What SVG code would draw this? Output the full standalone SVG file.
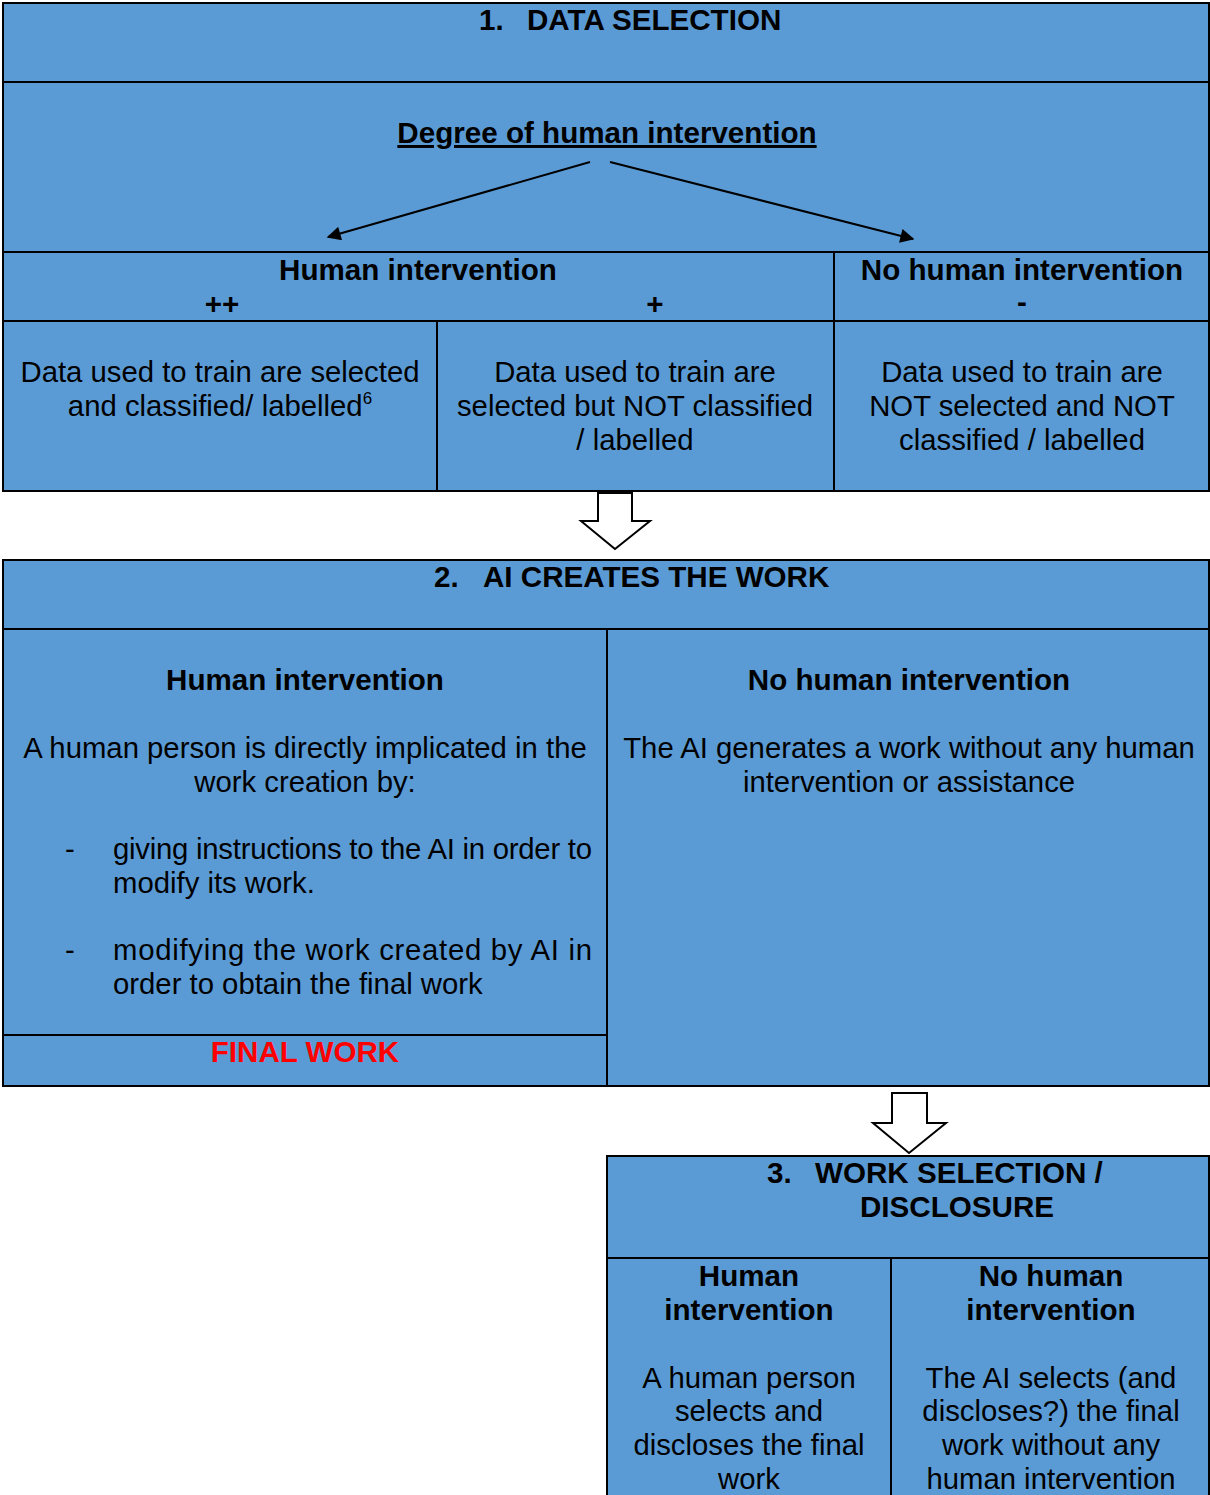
<svg xmlns="http://www.w3.org/2000/svg" width="1210" height="1495" viewBox="0 0 1210 1495">
<defs>
<style>
.cell{fill:#5B9BD5;stroke:#000;stroke-width:2}
.ln{stroke:#000;stroke-width:2;fill:none}
.t{font-family:"Liberation Sans",Arial,sans-serif;font-size:29.3px;fill:#000}
.b{font-weight:bold;font-size:29.6px}
.c{text-anchor:middle}
.hollow{fill:#fff;stroke:#000;stroke-width:2;stroke-linejoin:miter}
</style>
<marker id="ah2" viewBox="0 0 10 10" refX="9" refY="5" markerWidth="16" markerHeight="14" markerUnits="userSpaceOnUse" orient="auto">
<path d="M0,0 L10,5 L0,10 z" fill="#000"/>
</marker>
</defs>

<g id="stage1">
<rect class="cell" x="3" y="3" width="1206" height="488"/>
<line class="ln" x1="3" y1="82" x2="1209" y2="82"/>
<line class="ln" x1="3" y1="252" x2="1209" y2="252"/>
<line class="ln" x1="3" y1="321" x2="1209" y2="321"/>
<line class="ln" x1="834" y1="252" x2="834" y2="491"/>
<line class="ln" x1="437" y1="321" x2="437" y2="491"/>
<text class="t b" x="479" y="30">1.</text>
<text class="t b" x="527" y="30">DATA SELECTION</text>
<text class="t b c" x="607" y="143" text-decoration="underline">Degree of human intervention</text>
<text class="t b c" x="418" y="280">Human intervention</text>
<text class="t b c" x="1022" y="280">No human intervention</text>
<text class="t b c" x="222" y="314">++</text>
<text class="t b c" x="655" y="314">+</text>
<text class="t b c" x="1022" y="312">-</text>
</g>

<g id="stage1-col1">
<text class="t c" x="220" y="382">Data used to train are selected</text>
<text class="t c" x="220" y="416">and classified/ labelled<tspan font-size="17" dy="-12">6</tspan></text>
</g>
<g id="stage1-col2">
<text class="t c" x="635" y="382">Data used to train are</text>
<text class="t c" x="635" y="416">selected but NOT classified</text>
<text class="t c" x="635" y="450">/ labelled</text>
</g>
<g id="stage1-col3">
<text class="t c" x="1022" y="382">Data used to train are</text>
<text class="t c" x="1022" y="416">NOT selected and NOT</text>
<text class="t c" x="1022" y="450">classified / labelled</text>
</g>

<g id="stage2">
<rect class="cell" x="3" y="560" width="1206" height="526"/>
<line class="ln" x1="3" y1="629" x2="1209" y2="629"/>
<line class="ln" x1="607" y1="629" x2="607" y2="1086"/>
<line class="ln" x1="3" y1="1035" x2="607" y2="1035"/>
<text class="t b" x="434" y="587">2.</text>
<text class="t b" x="483" y="587">AI CREATES THE WORK</text>
</g>
<g id="stage2-human">
<text class="t b c" x="305" y="690">Human intervention</text>
<text class="t c" x="305" y="758">A human person is directly implicated in the</text>
<text class="t c" x="305" y="792">work creation by:</text>
<text class="t" x="65" y="859">-</text>
<text class="t" x="113" y="859" textLength="479" lengthAdjust="spacing">giving instructions to the AI in order to</text>
<text class="t" x="113" y="893">modify its work.</text>
<text class="t" x="65" y="960">-</text>
<text class="t" x="113" y="960" textLength="479" lengthAdjust="spacing">modifying the work created by AI in</text>
<text class="t" x="113" y="994">order to obtain the final work</text>
<text class="t b c" x="305" y="1062" style="fill:#FF0000">FINAL WORK</text>
</g>
<g id="stage2-nohuman">
<text class="t b c" x="909" y="690">No human intervention</text>
<text class="t c" x="909" y="758">The AI generates a work without any human</text>
<text class="t c" x="909" y="792">intervention or assistance</text>
</g>

<g id="stage3">
<path class="cell" d="M607,1497 L607,1156 L1209,1156 L1209,1497"/>
<line class="ln" x1="607" y1="1258" x2="1209" y2="1258"/>
<line class="ln" x1="891" y1="1258" x2="891" y2="1497"/>
<text class="t b" x="767" y="1183">3.</text>
<text class="t b" x="815" y="1183">WORK SELECTION /</text>
<text class="t b c" x="957" y="1217">DISCLOSURE</text>
</g>
<g id="stage3-human">
<text class="t b c" x="749" y="1286">Human</text>
<text class="t b c" x="749" y="1320">intervention</text>
<text class="t c" x="749" y="1388">A human person</text>
<text class="t c" x="749" y="1421">selects and</text>
<text class="t c" x="749" y="1455">discloses the final</text>
<text class="t c" x="749" y="1489">work</text>
</g>
<g id="stage3-nohuman">
<text class="t b c" x="1051" y="1286">No human</text>
<text class="t b c" x="1051" y="1320">intervention</text>
<text class="t c" x="1051" y="1388">The AI selects (and</text>
<text class="t c" x="1051" y="1421">discloses?) the final</text>
<text class="t c" x="1051" y="1455">work without any</text>
<text class="t c" x="1051" y="1489">human intervention</text>
</g>

<g id="connectors">
<line class="ln" x1="590" y1="162" x2="328" y2="237" marker-end="url(#ah2)"/>
<line class="ln" x1="610" y1="162" x2="913" y2="239" marker-end="url(#ah2)"/>
<path class="hollow" d="M598,493 L632,493 L632,521 L650,521 L615,549 L581,521 L598,521 Z"/>
<path class="hollow" d="M892,1093 L927,1093 L927,1123 L946,1123 L909,1153 L873,1123 L892,1123 Z"/>
</g>
</svg>
